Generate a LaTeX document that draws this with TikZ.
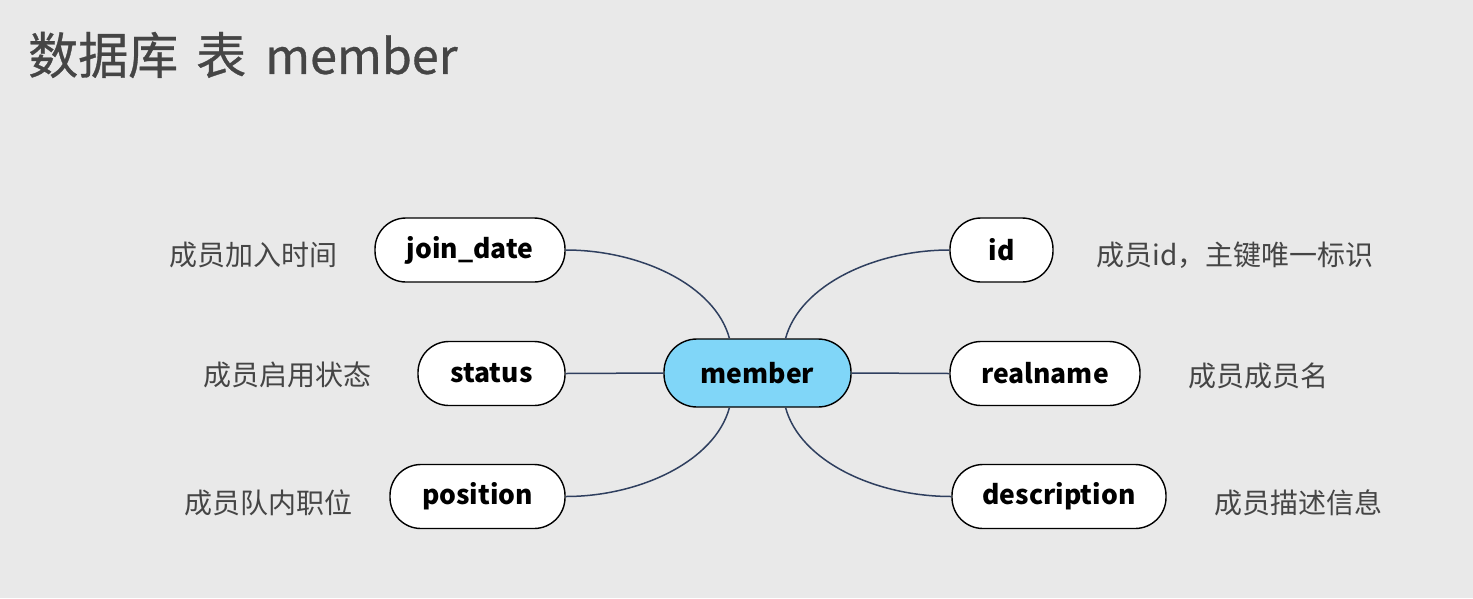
\documentclass[tikz,border=0pt]{standalone}
\usepackage{fontspec}
\setmainfont{Noto Sans CJK SC}
\newfontfamily\titlefont[FakeBold=0.6]{Noto Sans CJK SC}
\begin{document}
\begin{tikzpicture}[x=1pt,y=-1pt,
  field/.style={draw=black, line width=1.4pt, fill=white, rounded corners=31pt,
    minimum height=64pt, inner sep=0pt, font=\fontsize{26.5}{30}\selectfont\bfseries, text=black},
  note/.style={font=\fontsize{28}{30}\selectfont, text=black!73, inner sep=0pt},
  link/.style={draw=linkc, line width=1.5pt}]
\definecolor{bg}{HTML}{E9E9E9}
\definecolor{linkc}{HTML}{2F3F5F}
\definecolor{mfill}{HTML}{80D6F8}
\fill[bg] (0,0) rectangle (1473,598);
\useasboundingbox (0,0) rectangle (1473,598);
\node[anchor=west, inner sep=0pt, text=black!73, font=\titlefont] (title) at (28,55)
  {\fontsize{50}{52}\selectfont 数据库\hspace{18pt}表\hspace{19pt}\fontsize{48.5}{52}\selectfont member};
\node[field, fill=mfill, minimum width=187pt, minimum height=68pt, rounded corners=33pt] (m) at (757.5,373) {member};
\node[field, minimum width=190pt] (jd) at (470,250) {join\_date};
\node[field, minimum width=147pt] (st) at (491.5,373.5) {status};
\node[field, minimum width=175pt] (po) at (477.5,496.5) {position};
\node[field, minimum width=103pt] (id) at (1001.5,250) {id};
\node[field, minimum width=190pt] (rn) at (1045,373.5) {realname};
\node[field, minimum width=214pt] (de) at (1059,496.5) {description};
\node[note] (l1) at (253,255) {成员加入时间};
\node[note] (l2) at (287,375) {成员启用状态};
\node[note] (l3) at (268,503) {成员队内职位};
\node[note] (r1) at (1235,255) {成员id，主键唯一标识};
\node[note] (r2) at (1258,376) {成员成员名};
\node[note] (r3) at (1298,503) {成员描述信息};
\draw[link] (m.129) .. controls (715,285) and (640,250) .. (jd.east);
\draw[link] (m.51) .. controls (800,285) and (875,250) .. (id.west);
\draw[link] (m.231) .. controls (715,461) and (640,496.5) .. (po.east);
\draw[link] (m.309) .. controls (800,461) and (875,496.5) .. (de.west);
\draw[link] (st.east) -- (m.west);
\draw[link] (m.east) -- (rn.west);
\end{tikzpicture}
\end{document}
